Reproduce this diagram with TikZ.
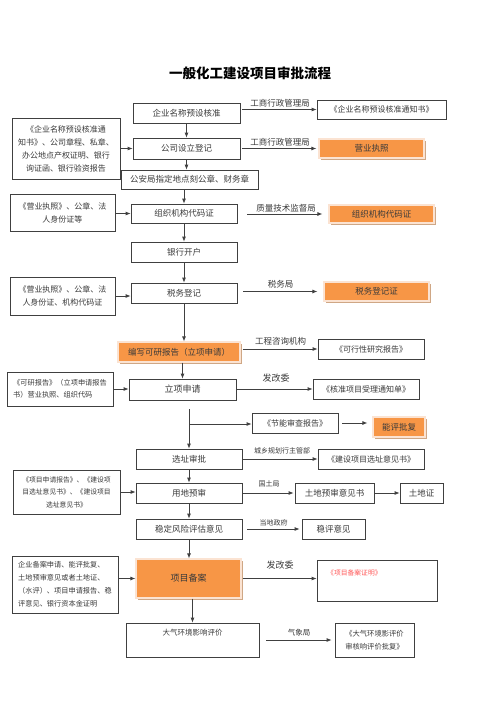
\documentclass[tikz,border=0pt]{standalone}
\usepackage{fontspec}
\setmainfont{Noto Sans CJK SC}
\usetikzlibrary{arrows.meta,shadows}
\definecolor{lc}{HTML}{404040}
\definecolor{tc}{HTML}{3A3A3A}
\definecolor{orgf}{HTML}{F79646}
\definecolor{orgb}{HTML}{FBE3D2}
\definecolor{shd}{HTML}{CFA785}
\definecolor{redt}{HTML}{FF5A5A}
\newcommand{\fs}[2]{\fontsize{#1}{#2}\selectfont}
\begin{document}
\begin{tikzpicture}[x=1pt,y=-1pt,
  wh/.style 2 args={minimum width=#1pt, minimum height=#2pt},
  box/.style={draw=lc, line width=0.8pt, fill=white, text=tc, inner sep=0pt, align=center, font=\fs{8.5}{12}},
  obox/.style={draw=orgb, line width=1.2pt, fill=orgf, text=tc, inner sep=0pt, align=center, font=\fs{8.5}{12},
    drop shadow={shadow xshift=1.6pt, shadow yshift=-1.6pt, fill=shd, opacity=1}},
  lbl/.style={text=tc, inner sep=0pt, font=\fs{8.5}{10}},
  arr/.style={draw=lc, line width=0.8pt, -{Latex[length=5pt,width=4pt]}}
]
\useasboundingbox (0,0) rectangle (500,707);
\fill[white] (0,0) rectangle (500,707);

% title
\node[font=\fs{13.5}{16}\bfseries, text=black] (title) at (250,73) {一般化工建设项目审批流程};

% main column
\node[box, wh={107}{20}] (qm) at (186.5,113) {企业名称预设核准};
\node[box, wh={107}{21}] (gs) at (186.5,148.5) {公司设立登记};
\node[box, wh={137}{19}] (ga) at (189.5,179.5) {公安局指定地点刻公章、财务章};
\node[box, wh={106}{19}] (zz) at (184,213.5) {组织机构代码证};
\node[box, wh={106}{20}] (yh) at (184,252) {银行开户};
\node[box, wh={106}{20}] (sw) at (184,293) {税务登记};
\node[obox, wh={122}{20}] (bx) at (179,352) {编写可研报告（立项申请）};
\node[box, wh={107}{21}, font=\fs{9}{12}] (lx) at (182.5,389.5) {立项申请};
\node[box, wh={106}{20}] (xz) at (189,459) {选址审批};
\node[box, wh={106}{20}] (yd) at (189,493) {用地预审};
\node[box, wh={106}{20}] (wd) at (189,529) {稳定风险评估意见};
\node[obox, wh={105}{39}, font=\fs{9}{12}] (ba) at (188.5,578.5) {项目备案};
\node[box, wh={133}{34}] (dq) at (192.5,640) {};
\node[lbl, font=\fs{7.5}{9}] (dqt) at (192.5,633) {大气环境影响评价};

% right column
\node[box, wh={129}{19}, font=\fs{8}{12}] (r1) at (381.5,109.5) {《企业名称预设核准通知书》};
\node[obox, wh={105}{19}] (r2) at (371.5,148.5) {营业执照};
\node[obox, wh={105}{18}] (r3) at (381.5,214) {组织机构代码证};
\node[obox, wh={105}{19}] (r4) at (376.5,291.5) {税务登记证};
\node[box, wh={106}{20}, font=\fs{8}{12}] (r5) at (371,349) {《可行性研究报告》};
\node[box, wh={106}{20}, font=\fs{8}{12}] (r6) at (366,389) {《核准项目受理通知单》};
\node[box, wh={86}{20}, font=\fs{8}{12}] (r7) at (295,423) {《节能审查报告》};
\node[obox, wh={52}{20}] (r8) at (399,427) {能评批复};
\node[box, wh={106}{20}, font=\fs{8}{12}] (r9) at (371,459) {《建设项目选址意见书》};
\node[box, wh={79}{20}] (r10) at (334.5,493) {土地预审意见书};
\node[box, wh={43}{20}] (r11) at (421.5,493) {土地证};
\node[box, wh={63}{20}] (r12) at (333.5,529) {稳评意见};
\node[box, wh={120}{41}] (r13) at (377,580.5) {};
\node[lbl, text=redt, anchor=west, font=\fs{6.8}{8}] (r13t) at (327,573) {《项目备案证明》};
\node[box, wh={79}{34}, font=\fs{7.3}{13}] (r14) at (374.5,640) {《大气环境影评价\\审核响评价批复》};

% left column
\node[box, wh={108}{61}, font=\fs{8}{13}] (lb1) at (66,148.5) {《企业名称预设核准通\\知书》、公司章程、私章、\\办公地点产权证明、银行\\询证函、银行验资报告};
\node[box, wh={105}{37}, font=\fs{8}{13}] (lb2) at (62.5,212.5) {《营业执照》、公章、法\\人身份证等};
\node[box, wh={105}{38}, font=\fs{8}{13}] (lb3) at (62.5,296) {《营业执照》、公章、法\\人身份证、机构代码证};
\node[box, wh={106}{34}, font=\fs{7.2}{12}, align=left] (lb4) at (60,389) {《可研报告》（立项申请报告\\书）营业执照、组织代码};
\node[box, wh={107}{44}, font=\fs{6.8}{12.5}] (lb5) at (66.5,492) {《项目申请报告》、《建设项\\目选址意见书》、《建设项目\\选址意见书》};
\node[box, wh={106}{57}, font=\fs{7.2}{13}, align=left] (lb6) at (65,584.5) {企业备案申请、能评批复、\\土地预审意见或者土地证、\\（水评）、项目申请报告、稳\\评意见、银行资本金证明};

% labels
\node[lbl] (l1) at (280,103) {工商行政管理局};
\node[lbl] (l2) at (280,142) {工商行政管理局};
\node[lbl] (l3) at (286,208) {质量技术监督局};
\node[lbl] (l4) at (280.5,284) {税务局};
\node[lbl] (l5) at (280.5,341) {工程咨询机构};
\node[lbl, font=\fs{9}{10}] (l6) at (276,378) {发改委};
\node[lbl, font=\fs{7}{9}] (l7) at (282,451) {城乡规划行主管部};
\node[lbl, font=\fs{7}{9}] (l8) at (269,484) {国土局};
\node[lbl, font=\fs{7}{9}] (l9) at (273.5,523) {当地政府};
\node[lbl, font=\fs{9}{10}] (l10) at (280,565) {发改委};
\node[lbl, font=\fs{7.5}{9}] (l11) at (299,633) {气象局};

% vertical connectors
\draw[arr] (qm.south) -- (gs.north);
\draw[arr] (gs.south) -- (gs.south |- ga.north);
\draw[arr] (zz.north |- ga.south) -- (zz.north);
\draw[arr] (zz.south) -- (yh.north);
\draw[arr] (yh.south) -- (sw.north);
\draw[arr] (sw.south) -- (sw.south |- bx.north);
\draw[arr] (lx.north |- bx.south) -- (lx.north);
\coordinate (st) at (189,409);
\coordinate (bp) at (189,424);
\draw[arr] (st) -- (xz.north);
\draw[arr] (bp) -- (bp -| r7.west);
\draw[arr] (xz.south) -- (yd.north);
\draw[arr] (yd.south) -- (wd.north);
\draw[arr] (wd.south) -- (wd.south |- ba.north);
\draw[arr] (dq.north |- ba.south) -- (dq.north);

% horizontal connectors to the right
\draw[arr, shorten <=2pt] (qm.east |- r1.west) -- (r1.west);
\draw[arr, shorten <=2pt, shorten >=2pt] (gs.east |- r2.west) -- (r2.west);
\draw[arr, shorten <=10pt, shorten >=6pt] (zz.east |- r3.west) -- (r3.west);
\draw[arr, shorten <=6pt, shorten >=6pt] (sw.east |- r4.west) -- (r4.west);
\draw[arr, shorten <=2pt] (bx.east |- r5.west) -- (r5.west);
\draw[arr] (lx.east |- r6.west) -- (r6.west);
\draw[arr, shorten <=4pt, shorten >=5pt] (r7.east) -- (r7.east -| r8.west);
\draw[arr, shorten <=1pt] (xz.east |- r9.west) -- (r9.west);
\draw[arr, shorten <=1pt, shorten >=1pt] (yd.east) -- (r10.west);
\draw[arr] (r10.east) -- (r11.west);
\draw[arr, shorten <=5pt, shorten >=2pt] (wd.east) -- (r12.west);
\draw[arr, shorten <=1pt] (ba.east) -- (ba.east -| r13.west);
\draw[arr, shorten <=7pt, shorten >=3pt] (dq.east) -- (r14.west);

% connectors from the left
\draw[arr] (lb1.east |- gs.west) -- (gs.west);
\draw[arr] (lb2.east |- zz.west) -- (zz.west);
\draw[arr] (lb3.east) -- (lb3.east -| sw.west);
\draw[arr] (lb4.east) -- (lb4.east -| lx.west);
\draw[arr] (lb5.east) -- (lb5.east -| yd.west);
\draw[arr] (lb6.east |- ba.west) -- (ba.west);
\end{tikzpicture}
\end{document}
